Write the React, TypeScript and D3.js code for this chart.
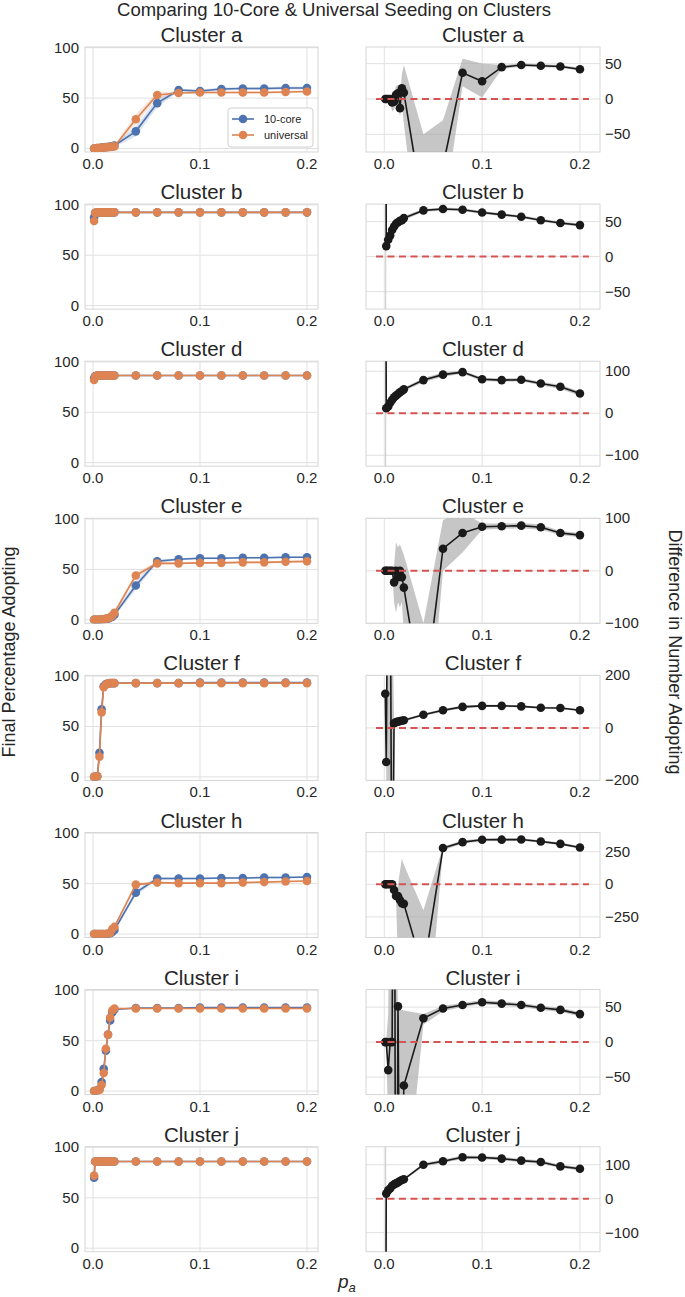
import React from "react";
import * as d3 from "d3";

// p_a values (shared by every panel)
const XS = [0.001, 0.002, 0.004, 0.006, 0.008, 0.01, 0.012, 0.014, 0.016, 0.018, 0.02, 0.04, 0.06, 0.08, 0.1, 0.12, 0.14, 0.16, 0.18, 0.2];
const CLUSTERS = ["a", "b", "d", "e", "f", "h", "i", "j"];
const X_TICKS = [0, 0.1, 0.2];
const LEFT_Y_TICKS = [0, 50, 100];

// final percentage adopting: 10-core seeding
const core_a = [0, 0, 0.5, 0.5, 1, 1, 1.5, 1.5, 2, 2, 3, 17, 45, 58, 57, 59, 59.5, 59.5, 60, 60];
const core_b = [87.5, 92, 92.5, 92.5, 92.5, 92.5, 92.5, 92.5, 92.5, 92.5, 92.5, 92.5, 92.5, 92.5, 92.5, 92.5, 92.5, 92.5, 92.5, 92.5];
const core_d = [84, 86, 86.5, 86.5, 86.5, 86.5, 86.5, 86.5, 86.5, 86.5, 86.5, 86.5, 86.5, 86.5, 86.5, 86.5, 86.5, 86.5, 86.5, 86.5];
const core_e = [0, 0, 0, 0, 0.5, 0.5, 1, 1, 2, 3, 5, 34, 58, 60, 61, 61, 61.5, 61.5, 62, 62];
const core_f = [0, 0, 0.5, 24, 67, 90, 92, 92.5, 93, 93, 93, 93, 93, 93, 93.5, 93.5, 93.5, 93.5, 93.5, 93.5];
const core_h = [0, 0, 0, 0, 0, 0, 0, 0, 0.5, 2, 4, 41, 55, 55, 55, 55.5, 55.5, 56, 56, 56.5];
const core_i = [0, 0, 0.5, 2, 9, 22, 40, 56, 70, 78, 81, 82.5, 82.5, 82.5, 83, 83, 83, 83, 83, 83];
const core_j = [70, 86, 86, 86, 86, 86, 86, 86, 86, 86, 86, 86, 86, 86, 86, 86, 86, 86, 86, 86];

// final percentage adopting: universal seeding
const uni_a = [0, 0, 0.5, 0.5, 1, 1, 1, 1.5, 1.5, 2, 2, 29, 53, 55, 55.5, 55.5, 55.5, 55.5, 56, 56.5];
const uni_b = [84, 92, 92.5, 92.5, 92.5, 92.5, 92.5, 92.5, 92.5, 92.5, 92.5, 92.5, 92.5, 92.5, 92.5, 92.5, 92.5, 92.5, 92.5, 92.5];
const uni_d = [82, 85.5, 86.5, 86.5, 86.5, 86.5, 86.5, 86.5, 86.5, 86.5, 86.5, 86.5, 86.5, 86.5, 86.5, 86.5, 86.5, 86.5, 86.5, 86.5];
const uni_e = [0, 0, 0, 0, 0.5, 0.5, 1, 1.5, 2.5, 4, 7, 44, 56, 56, 56.5, 56.5, 57, 57, 57.5, 58];
const uni_f = [0, 0, 0.5, 20, 64, 89, 91.5, 92.5, 93, 93, 93, 93, 93, 93, 93, 93, 93, 93, 93, 93];
const uni_h = [0, 0, 0, 0, 0, 0, 0, 0.5, 1, 5, 7, 49, 51, 50.5, 50.5, 50.5, 51, 51.5, 52, 52.5];
const uni_i = [0, 0, 0.5, 1, 6, 18, 42, 56, 73, 80, 82, 82, 82, 82, 82, 82, 82, 82, 82, 82];
const uni_j = [72, 86, 86, 86, 86, 86, 86, 86, 86, 86, 86, 86, 86, 86, 86, 86, 86, 86, 86, 86];

// confidence half-widths for the left panels
const coreCi_a = [0.2, 0.3, 0.4, 0.5, 0.6, 0.6, 0.8, 0.8, 1, 1, 1.5, 5, 4, 1.5, 1.5, 1.5, 1.5, 1.5, 1.5, 1.5];
const uniCi_a = [0.2, 0.3, 0.4, 0.5, 0.6, 0.6, 0.8, 0.8, 1, 1, 1.5, 5, 3, 1.2, 1.2, 1.2, 1.2, 1.2, 1.2, 1.2];
const coreCi_flat = [1.5, 0.5, 0.3, 0.3, 0.3, 0.3, 0.3, 0.3, 0.3, 0.3, 0.3, 0.3, 0.3, 0.3, 0.3, 0.3, 0.3, 0.3, 0.3, 0.3];
const uniCi_flat = [1.5, 0.6, 0.3, 0.3, 0.3, 0.3, 0.3, 0.3, 0.3, 0.3, 0.3, 0.3, 0.3, 0.3, 0.3, 0.3, 0.3, 0.3, 0.3, 0.3];
const coreCi_e = [0.2, 0.2, 0.3, 0.3, 0.5, 0.5, 0.8, 0.8, 1, 1.5, 2, 4, 2, 1, 1, 1, 1, 1, 1, 1];
const uniCi_e = [0.2, 0.2, 0.3, 0.3, 0.5, 0.5, 0.8, 0.8, 1, 1.5, 2, 3, 2, 1, 1, 1, 1, 1, 1, 1];
const coreCi_f = [0.2, 0.3, 0.5, 3, 3, 2, 1, 0.5, 0.5, 0.5, 0.5, 0.5, 0.5, 0.5, 0.5, 0.5, 0.5, 0.5, 0.5, 0.5];
const uniCi_f = [0.2, 0.3, 0.5, 3, 3, 2, 1, 0.5, 0.5, 0.5, 0.5, 0.5, 0.5, 0.5, 0.5, 0.5, 0.5, 0.5, 0.5, 0.5];
const coreCi_h = [0.2, 0.2, 0.2, 0.2, 0.2, 0.3, 0.3, 0.5, 0.8, 1, 2, 3, 1.5, 1, 1, 1, 1, 1, 1, 1];
const uniCi_h = [0.2, 0.2, 0.2, 0.2, 0.2, 0.3, 0.3, 0.5, 0.8, 1, 2, 2, 1, 1, 1, 1, 1, 1, 1, 1];
const coreCi_i = [0.2, 0.3, 0.5, 1, 2, 3, 3, 3, 3, 2, 1, 0.5, 0.5, 0.5, 0.5, 0.5, 0.5, 0.5, 0.5, 0.5];
const uniCi_i = [0.2, 0.3, 0.5, 1, 2, 3, 3, 3, 3, 2, 1, 0.5, 0.5, 0.5, 0.5, 0.5, 0.5, 0.5, 0.5, 0.5];

// difference in number adopting (universal - 10-core), with its band
const diff_a = [0, 0, 0, 0, -5, -4, 6, 8, -13, 15, 9, -159, -95, 37, 25, 45, 48, 47, 46, 42];
const diffLo_a = [-1, -1, -2, -3, -18, -15, -8, -5, -25, -10, -35, -260, -170, 18, 2, 42, 46, 45, 44, 40];
const diffHi_a = [1, 1, 2, 3, 5, 8, 18, 20, 0, 35, 48, -50, -30, 57, 50, 48, 50, 49, 48, 44];
const diff_b = [900, 15, 24, 30, 38, 43, 47, 49, 51, 52, 55, 66, 68, 67, 63, 60, 57, 52, 48, 45];
const diffLo_b = [-1500, 12, 20, 26, 34, 40, 44, 46, 48, 49, 52, 64, 66, 65, 61, 58, 55, 50, 46, 43];
const diffHi_b = [3000, 18, 28, 34, 42, 46, 50, 52, 54, 55, 58, 68, 70, 69, 65, 62, 59, 54, 50, 47];
const diff_d = [1000, 12, 16, 25, 32, 38, 42, 46, 50, 53, 57, 79, 92, 98, 81, 79, 80, 71, 63, 47];
const diffLo_d = [-1500, 8, 12, 21, 28, 34, 38, 42, 46, 49, 53, 74, 87, 94, 77, 75, 76, 67, 58, 42];
const diffHi_d = [3000, 16, 20, 29, 36, 42, 46, 50, 54, 57, 61, 84, 97, 102, 85, 83, 84, 75, 68, 52];
const diff_e = [0, 0, 0, 0, 0, -22, 0, -12, 0, -12, -32, -258, 42, 72, 84, 85, 86, 83, 72, 68];
const diffLo_e = [-2, -2, -2, -2, -3, -60, -80, -60, -70, -60, -120, -420, 0, 35, 78, 80, 81, 78, 68, 64];
const diffHi_e = [2, 2, 2, 2, 3, 10, 55, 45, 50, 40, 30, -100, 97, 112, 90, 90, 91, 88, 76, 72];
const diff_f = [130, -130, 900, 700, -900, 18, 22, 24, 26, 27, 29, 50, 67, 80, 84, 84, 82, 77, 76, 67];
const diffLo_f = [80, -180, -500, -400, -2500, 10, 15, 18, 20, 22, 24, 45, 62, 75, 80, 80, 78, 73, 72, 63];
const diffHi_f = [180, -80, 2500, 1800, 500, 26, 29, 30, 32, 33, 34, 55, 72, 85, 88, 88, 86, 81, 80, 71];
const diff_h = [0, 0, 0, 0, 0, -44, -90, -90, -120, -146, -150, -666, 278, 323, 341, 342, 343, 328, 310, 282];
const diffLo_h = [-5, -5, -5, -5, -5, -60, -110, -600, -700, -800, -900, -1500, 260, 310, 330, 332, 333, 318, 300, 272];
const diffHi_h = [5, 5, 5, 5, 5, -30, -70, 0, 100, 200, 150, -200, 290, 335, 352, 352, 353, 338, 320, 292];
const diff_i = [0, 0, -40, 0, 0, 600, -600, 51, -300, -200, -62, 34, 48, 53, 57, 55, 53, 49, 46, 40];
const diffLo_i = [-2, -3, -120, -300, -500, -200, -1500, -400, -1000, -600, -250, 25, 44, 50, 54, 52, 50, 46, 43, 37];
const diffHi_i = [2, 3, 40, 300, 400, 1500, 200, 48, 47, 46, 45, 40, 52, 56, 60, 58, 56, 52, 49, 43];
const diff_j = [-1000, 15, 25, 30, 38, 42, 45, 48, 52, 55, 57, 100, 110, 122, 121, 118, 112, 108, 95, 88];
const diffLo_j = [-3000, 11, 21, 26, 34, 38, 41, 44, 48, 51, 53, 95, 105, 117, 116, 113, 107, 103, 90, 83];
const diffHi_j = [1500, 19, 29, 34, 42, 46, 49, 52, 56, 59, 61, 105, 115, 127, 126, 123, 117, 113, 100, 93];

// y limits and ticks of the difference panels
const DIFF_YLIM = { a: [-75, 73.5], b: [-75, 75], d: [-126, 124], e: [-100, 100], f: [-200, 200], h: [-408, 397], i: [-75, 75], j: [-156, 153] };
const DIFF_TICKS = { a: [-50, 0, 50], b: [-50, 0, 50], d: [-100, 0, 100], e: [-100, 0, 100], f: [-200, 0, 200], h: [-250, 0, 250], i: [-50, 0, 50], j: [-100, 0, 100] };

const LEFT = {
  a: { core: core_a, uni: uni_a, coreCi: coreCi_a, uniCi: uniCi_a },
  b: { core: core_b, uni: uni_b, coreCi: coreCi_flat, uniCi: uniCi_flat },
  d: { core: core_d, uni: uni_d, coreCi: coreCi_flat, uniCi: uniCi_flat },
  e: { core: core_e, uni: uni_e, coreCi: coreCi_e, uniCi: uniCi_e },
  f: { core: core_f, uni: uni_f, coreCi: coreCi_f, uniCi: uniCi_f },
  h: { core: core_h, uni: uni_h, coreCi: coreCi_h, uniCi: uniCi_h },
  i: { core: core_i, uni: uni_i, coreCi: coreCi_i, uniCi: uniCi_i },
  j: { core: core_j, uni: uni_j, coreCi: coreCi_flat, uniCi: uniCi_flat },
};
const RIGHT = {
  a: { v: diff_a, lo: diffLo_a, hi: diffHi_a },
  b: { v: diff_b, lo: diffLo_b, hi: diffHi_b },
  d: { v: diff_d, lo: diffLo_d, hi: diffHi_d },
  e: { v: diff_e, lo: diffLo_e, hi: diffHi_e },
  f: { v: diff_f, lo: diffLo_f, hi: diffHi_f },
  h: { v: diff_h, lo: diffLo_h, hi: diffHi_h },
  i: { v: diff_i, lo: diffLo_i, hi: diffHi_i },
  j: { v: diff_j, lo: diffLo_j, hi: diffHi_j },
};

const W = 685;
const H = 1297;
const ROW0 = 47;
const ROW_STEP = 157.1;
const PH = 105;
const FONT = "'Liberation Sans', Arial, sans-serif";
const TXT = "#262626";
const GRID = "#e1e1e1";
const BLUE = "#4c72b0";
const ORANGE = "#dd8452";
const RED = "#d65353";

const leftX = d3.scaleLinear().domain([-0.0075, 0.2103]).range([85, 318]);
const rightX = d3.scaleLinear().domain([-0.0187, 0.2205]).range([366, 600]);

const fmtTick = (v: number) => (v < 0 ? "\u2212" + Math.abs(v) : String(v));

const LeftPanel = ({ row, name }) => {
  const top = ROW0 + row * ROW_STEP;
  const y = d3.scaleLinear().domain([-3.5, 100.7]).range([top + PH, top]);
  const [x0, x1] = leftX.range();
  const d = LEFT[name];
  const line = d3.line<number>().x((_, i) => leftX(XS[i])).y((v) => y(v));
  const band = (vals: number[], ci: number[]) =>
    d3.area<number>().x((_, i) => leftX(XS[i])).y0((v, i) => y(v - ci[i])).y1((v, i) => y(v + ci[i]))(vals);
  const clip = `clipL${name}`;
  const series = [
    { vals: d.core, ci: d.coreCi, color: BLUE },
    { vals: d.uni, ci: d.uniCi, color: ORANGE },
  ];
  return (
    <g>
      <clipPath id={clip}>
        <rect x={x0} y={top} width={x1 - x0} height={PH} />
      </clipPath>
      {X_TICKS.map((t) => (
        <line key={"gx" + t} x1={leftX(t)} x2={leftX(t)} y1={top} y2={top + PH} stroke={GRID} />
      ))}
      {LEFT_Y_TICKS.map((t) => (
        <line key={"gy" + t} x1={x0} x2={x1} y1={y(t)} y2={y(t)} stroke={GRID} />
      ))}
      <rect x={x0} y={top} width={x1 - x0} height={PH} fill="none" stroke="#d6d6d6" />
      <g clipPath={`url(#${clip})`}>
        {series.map((s) => (
          <g key={s.color}>
            <path d={band(s.vals, s.ci)} fill={s.color} opacity={0.2} />
            <path d={line(s.vals)} fill="none" stroke={s.color} strokeWidth={1.6} />
            {s.vals.map((v, i) => (
              <circle key={i} cx={leftX(XS[i])} cy={y(v)} r={4.3} fill={s.color} />
            ))}
          </g>
        ))}
      </g>
      {LEFT_Y_TICKS.map((t) => (
        <text key={"ty" + t} x={79} y={y(t) + 5} textAnchor="end" fontSize={15} fill={TXT}>
          {t}
        </text>
      ))}
      {X_TICKS.map((t) => (
        <text key={"tx" + t} x={leftX(t)} y={top + PH + 17} textAnchor="middle" fontSize={15} fill={TXT}>
          {t.toFixed(1)}
        </text>
      ))}
      <text x={(x0 + x1) / 2} y={top - 5} textAnchor="middle" fontSize={20.5} fill={TXT}>
        {"Cluster " + name}
      </text>
      {row === 0 && (
        <g>
          <rect x={228} y={108} width={85} height={39} rx={3} fill="#fff" stroke="#d0d0d0" />
          {series.map((s, k) => (
            <g key={"lg" + k}>
              <line x1={232} x2={254} y1={119 + k * 16} y2={119 + k * 16} stroke={s.color} strokeWidth={1.6} />
              <circle cx={243} cy={119 + k * 16} r={4.3} fill={s.color} />
              <text x={264} y={123 + k * 16} fontSize={11} fill={TXT}>
                {k === 0 ? "10-core" : "universal"}
              </text>
            </g>
          ))}
        </g>
      )}
    </g>
  );
};

const RightPanel = ({ row, name }) => {
  const top = ROW0 + row * ROW_STEP;
  const y = d3.scaleLinear().domain(DIFF_YLIM[name]).range([top + PH, top]);
  const [x0, x1] = rightX.range();
  const d = RIGHT[name];
  const line = d3.line<number>().x((_, i) => rightX(XS[i])).y((v) => y(v));
  const band = d3
    .area<number>()
    .x((_, i) => rightX(XS[i]))
    .y0((_, i) => y(d.lo[i]))
    .y1((_, i) => y(d.hi[i]));
  const clip = `clipR${name}`;
  return (
    <g>
      <clipPath id={clip}>
        <rect x={x0} y={top} width={x1 - x0} height={PH} />
      </clipPath>
      {X_TICKS.map((t) => (
        <line key={"gx" + t} x1={rightX(t)} x2={rightX(t)} y1={top} y2={top + PH} stroke={GRID} />
      ))}
      {DIFF_TICKS[name].map((t) => (
        <line key={"gy" + t} x1={x0} x2={x1} y1={y(t)} y2={y(t)} stroke={GRID} />
      ))}
      <rect x={x0} y={top} width={x1 - x0} height={PH} fill="none" stroke="#d6d6d6" />
      <g clipPath={`url(#${clip})`}>
        <path d={band(d.v)} fill="#a8a8a8" opacity={0.65} />
        <path d={line(d.v)} fill="none" stroke="#1a1a1a" strokeWidth={1.6} />
        {d.v.map((v, i) => (
          <circle key={i} cx={rightX(XS[i])} cy={y(v)} r={4.3} fill="#1a1a1a" />
        ))}
        <line
          x1={rightX(-0.0085)}
          x2={rightX(0.2092)}
          y1={y(0)}
          y2={y(0)}
          stroke={RED}
          strokeWidth={2}
          strokeDasharray="7,4.5"
        />
      </g>
      {DIFF_TICKS[name].map((t) => (
        <text key={"ty" + t} x={605} y={y(t) + 5} fontSize={15} fill={TXT}>
          {fmtTick(t)}
        </text>
      ))}
      {X_TICKS.map((t) => (
        <text key={"tx" + t} x={rightX(t)} y={top + PH + 17} textAnchor="middle" fontSize={15} fill={TXT}>
          {t.toFixed(1)}
        </text>
      ))}
      <text x={(x0 + x1) / 2} y={top - 5} textAnchor="middle" fontSize={20.5} fill={TXT}>
        {"Cluster " + name}
      </text>
    </g>
  );
};

export default function App() {
  return (
    <svg
      width={W}
      height={H}
      style={{ position: "absolute", left: 0, top: 0, background: "#fff" }}
      fontFamily={FONT}
    >
      <rect width={W} height={H} fill="#fff" />
      <text x={334} y={16} textAnchor="middle" fontSize={18.5} fill={TXT}>
        Comparing 10-Core &amp; Universal Seeding on Clusters
      </text>
      {CLUSTERS.map((c, r) => (
        <g key={c}>
          <LeftPanel row={r} name={c} />
          <RightPanel row={r} name={c} />
        </g>
      ))}
      <text transform="translate(15,652) rotate(-90)" textAnchor="middle" fontSize={18} fill={TXT}>
        Final Percentage Adopting
      </text>
      <text transform="translate(669,652) rotate(90)" textAnchor="middle" fontSize={18} fill={TXT}>
        Difference in Number Adopting
      </text>
      <text x={338} y={1288} fontSize={19} fill={TXT} fontStyle="italic">
        p
        <tspan fontSize={13} dy={4}>
          a
        </tspan>
      </text>
    </svg>
  );
}
